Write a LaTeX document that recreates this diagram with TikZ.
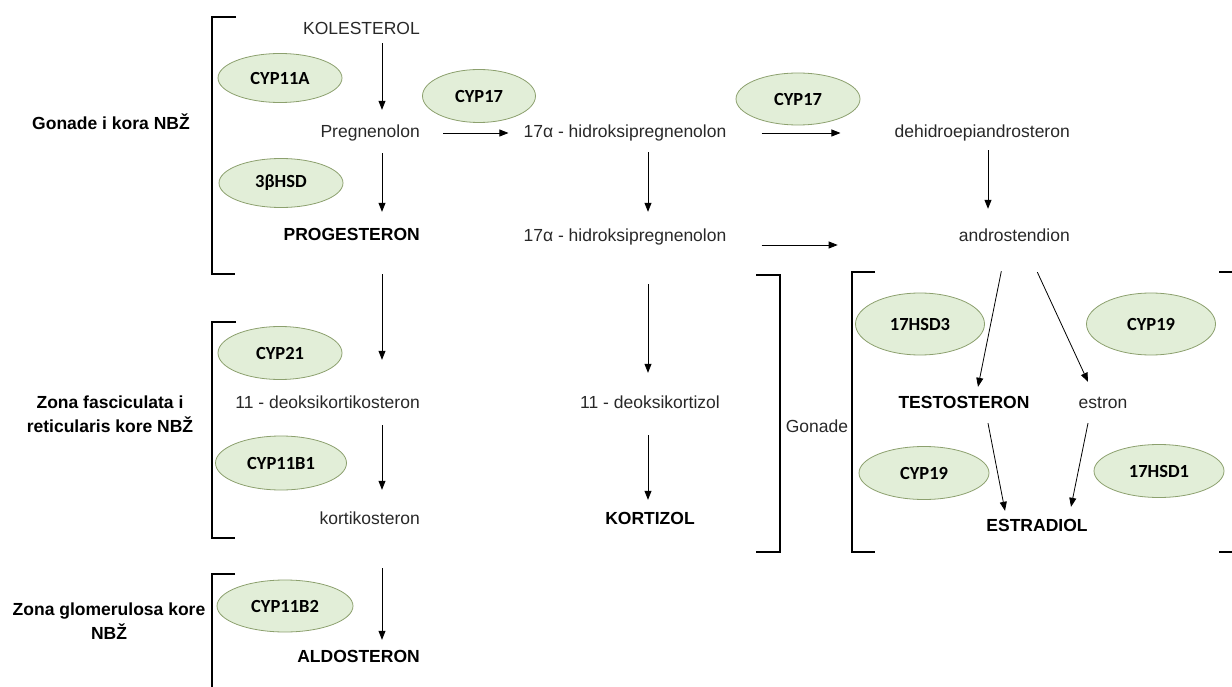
\documentclass[tikz,border=0pt]{standalone}
\usepackage{fontspec}
\setmainfont{Liberation Sans}
\newfontfamily\enzfont{Carlito}
\usetikzlibrary{shapes.geometric,arrows.meta}
\definecolor{enzfill}{RGB}{226,238,216}
\definecolor{enzline}{RGB}{140,160,110}
\definecolor{txt}{RGB}{40,40,40}

\begin{document}
\begin{tikzpicture}[x=1pt,y=-1pt,
  met/.style={inner sep=0pt,text height=13pt,text depth=4pt,text=txt,font=\fontsize{17.5}{21}\selectfont},
  hor/.style={met,text=black,font=\fontsize{17.5}{21}\selectfont\bfseries},
  zone/.style={inner sep=0pt,align=center,font=\fontsize{17.5}{24}\selectfont\bfseries},
  enz/.style={ellipse,draw=enzline,fill=enzfill,line width=0.8pt,inner sep=0pt,
    minimum width=126pt,minimum height=52pt,font=\enzfont\fontsize{18.5}{22}\selectfont\bfseries},
  arr/.style={-{Triangle[length=9pt,width=7pt]},line width=0.8pt},
  brk/.style={line width=2.5pt}]
\useasboundingbox (0,0) rectangle (1232,687);
\coordinate (colA) at (382,0);
\coordinate (colB) at (648,0);
\coordinate (colD) at (988,0);

\node[zone] (zA) at (111,122) {Gonade i kora NBŽ};
\node[zone] (zB) at (110,414) {Zona fasciculata i\\reticularis kore NBŽ};
\node[zone] (zC) at (109,621) {Zona glomerulosa kore\\NBŽ};

\draw[brk] (236,17) -| (212,274) -- (235,274);
\draw[brk] (236,322) -| (212,538) -- (235,538);
\draw[brk] (235,574) -| (212,690);
\draw[brk] (756,275) -| (780,552) -- (756,552);
\draw[brk] (875,272) -| (852,552) -- (875,552);
\draw[brk] (1219,272) -- (1232,272);
\draw[brk] (1219,552) -- (1232,552);

\node[met,anchor=east] (kol) at (420,30) {KOLESTEROL};
\node[met,anchor=east] (preg) at (420,133) {Pregnenolon};
\node[hor,anchor=east] (prog) at (420,236) {PROGESTERON};
\node[met] (hp1) at (625,133) {17α - hidroksipregnenolon};
\node[met] (hp2) at (625,237) {17α - hidroksipregnenolon};
\node[met,anchor=east] (dhea) at (1070,133) {dehidroepiandrosteron};
\node[met,anchor=east] (andro) at (1070,237) {androstendion};
\node[met,anchor=east] (dkst) at (420,404) {11 - deoksikortikosteron};
\node[met,anchor=east] (kst) at (420,520) {kortikosteron};
\node[hor,anchor=east] (aldo) at (420,658) {ALDOSTERON};
\node[met] (dkz) at (650,404) {11 - deoksikortizol};
\node[hor] (kz) at (650,520) {KORTIZOL};
\node[met] (gon) at (817,428) {Gonade};
\node[hor] (testo) at (964,404) {TESTOSTERON};
\node[met] (estron) at (1103,404) {estron};
\node[hor] (estr) at (1037,527) {ESTRADIOL};

\node[enz,minimum width=124pt,minimum height=49pt] (cypA) at (280,78) {CYP11A};
\node[enz,minimum width=124pt,minimum height=49pt] (hsdB) at (281,183) {3βHSD};
\node[enz,minimum width=113pt,minimum height=53pt] (cypE) at (479,96) {CYP17};
\node[enz,minimum width=124pt] (cypF) at (798,99) {CYP17};
\node[enz,minimum width=124pt,minimum height=53pt] (cypK) at (280,353) {CYP21};
\node[enz,minimum width=131pt,minimum height=54pt] (cypL) at (281,463) {CYP11B1};
\node[enz,minimum width=136pt] (cypM) at (285,606) {CYP11B2};
\node[enz,minimum width=129pt,minimum height=62pt] (hsdC) at (920,324) {17HSD3};
\node[enz,minimum width=129pt,minimum height=62pt] (cypT) at (1151,324) {CYP19};
\node[enz,minimum width=130pt,minimum height=53pt] (cypU) at (924,473) {CYP19};
\node[enz,minimum width=130pt,minimum height=53pt] (hsdD) at (1159,471) {17HSD1};

\draw[arr,shorten <=4.5pt,shorten >=14.5pt] (kol.south -| colA) -- (preg.north -| colA);
\draw[arr,shorten <=11.5pt,shorten >=15.5pt] (preg.south -| colA) -- (prog.north -| colA);
\draw[arr,shorten <=29.5pt,shorten >=35.5pt] (prog.south -| colA) -- (dkst.north -| colA);
\draw[arr,shorten <=12.5pt,shorten >=21.5pt] (dkst.south -| colA) -- (kst.north -| colA);
\draw[arr,shorten <=39.5pt,shorten >=9.5pt] (kst.south -| colA) -- (aldo.north -| colA);
\draw[arr,shorten <=23pt,shorten >=15pt] (preg.east) -- (hp1.west);
\draw[arr,shorten <=35pt,shorten >=54pt] (hp1.east) -- (dhea.west);
\draw[arr,shorten <=35pt,shorten >=121pt] ([yshift=-8pt]hp2.east) -- ([yshift=-8pt]hp2.east -| andro.west);
\draw[arr,shorten <=10.5pt,shorten >=16.5pt] (hp1.south -| colB) -- (hp2.north -| colB);
\draw[arr,shorten <=38.5pt,shorten >=22.5pt] (hp2.south -| colB) -- (dkz.north -| colB);
\draw[arr,shorten <=22.5pt,shorten >=11.5pt] (dkz.south -| colB) -- (kz.north -| colB);
\draw[arr,shorten <=8.5pt,shorten >=19.5pt] (dhea.south -| colD) -- (andro.north -| colD);
\draw[arr] ([xshift=-13pt,yshift=-25.5pt]andro.south) -- ([xshift=14pt,yshift=8.5pt]testo.north);
\draw[arr] ([xshift=23pt,yshift=-26.5pt]andro.south) -- ([xshift=-15pt,yshift=13.5pt]estron.north);
\draw[arr] ([xshift=24pt,yshift=-10.5pt]testo.south) -- ([xshift=-32pt,yshift=7.5pt]estr.north);
\draw[arr] ([xshift=-15pt,yshift=-10.5pt]estron.south) -- ([xshift=34pt,yshift=11.5pt]estr.north);
\end{tikzpicture}
\end{document}
